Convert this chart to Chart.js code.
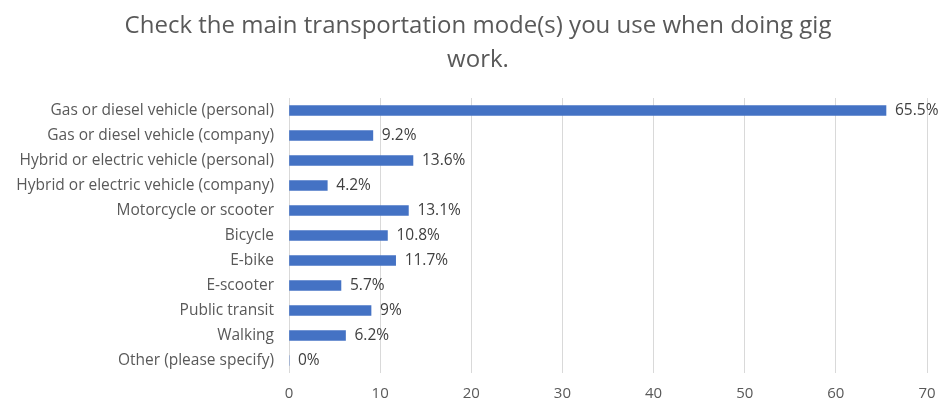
<!DOCTYPE html>
<html>
<head>
<meta charset="utf-8">
<script src="https://cdn.jsdelivr.net/npm/chart.js@4"></script>
<style>
html,body{margin:0;padding:0;background:#fff;}
#wrap{width:939px;height:404px;position:relative;}
</style>
</head>
<body>
<div id="wrap"><canvas id="c" width="939" height="404"></canvas></div>
<script>
const titleLines = ["Check the main transportation mode(s) you use when doing gig", "work."];
const categories = [
  "Gas or diesel vehicle (personal)",
  "Gas or diesel vehicle (company)",
  "Hybrid or electric vehicle (personal)",
  "Hybrid or electric vehicle (company)",
  "Motorcycle or scooter",
  "Bicycle",
  "E-bike",
  "E-scooter",
  "Public transit",
  "Walking",
  "Other (please specify)"
];
const values = [65.5, 9.2, 13.6, 4.2, 13.1, 10.8, 11.7, 5.7, 9, 6.2, 0];
const xTicks = [0, 10, 20, 30, 40, 50, 60, 70];

const FONT = "'Open Sans', 'Noto Sans', sans-serif";

const titlePlugin = {
  id: 'centeredTitle',
  afterDraw(chart) {
    const ctx = chart.ctx;
    ctx.save();
    ctx.font = "24px " + FONT;
    ctx.fillStyle = "#595959";
    ctx.textAlign = "center";
    ctx.textBaseline = "alphabetic";
    titleLines.forEach((line, i) => {
      ctx.fillText(line, 478, 33 + i * 34);
    });
    ctx.restore();
  }
};

const labelPlugin = {
  id: 'valueLabels',
  afterDatasetsDraw(chart) {
    const ctx = chart.ctx;
    const meta = chart.getDatasetMeta(0);
    ctx.save();
    ctx.font = "15.5px " + FONT;
    ctx.fillStyle = "#404040";
    ctx.textAlign = "left";
    ctx.textBaseline = "middle";
    meta.data.forEach((bar, i) => {
      ctx.fillText(values[i] + "%", bar.x + 9, bar.y);
    });
    ctx.restore();
  }
};

new Chart(document.getElementById('c'), {
  type: 'bar',
  data: {
    labels: categories,
    datasets: [{
      data: values,
      backgroundColor: '#4472C4',
      borderWidth: 0,
      barThickness: 10
    }]
  },
  options: {
    indexAxis: 'y',
    responsive: false,
    animation: false,
    layout: { padding: { left: 5, right: 12, top: 98, bottom: 0 } },
    plugins: {
      legend: { display: false },
      tooltip: { enabled: false },
      title: { display: false }
    },
    scales: {
      x: {
        min: 0, max: 70,
        afterBuildTicks(scale) { scale.ticks = xTicks.map(v => ({ value: v })); },
        afterFit(scale) { scale.height = 31; scale.paddingLeft = 0; scale.paddingRight = 0; },
        grid: { color: '#D9D9D9', drawTicks: false },
        border: { display: false },
        ticks: { color: '#595959', font: { family: FONT, size: 15 }, padding: 12 }
      },
      y: {
        afterFit(scale) { scale.width = 284; scale.paddingTop = 0; scale.paddingBottom = 0; },
        grid: { display: false, drawTicks: false },
        border: { display: false },
        ticks: { color: '#595959', font: { family: FONT, size: 15.5 }, padding: 15, autoSkip: false }
      }
    }
  },
  plugins: [labelPlugin, titlePlugin]
});
</script>
</body>
</html>
